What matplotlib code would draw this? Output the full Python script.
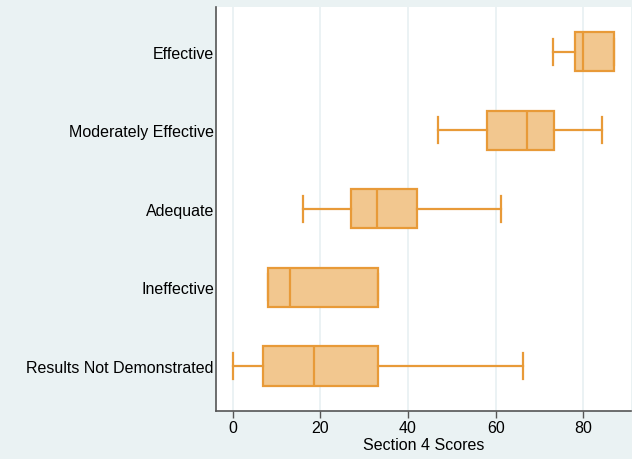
import matplotlib.pyplot as plt


categories = [
    "Results Not Demonstrated",
    "Ineffective",
    "Adequate",
    "Moderately Effective",
    "Effective",
]

# five-number summaries
whis_lo = [0.0, 8.0, 16.0, 46.9, 73.0]
q1      = [7.0, 8.0, 27.0, 58.0, 78.0]
median  = [18.5, 13.0, 33.0, 67.1, 79.9]
q3      = [33.1, 33.1, 42.1, 73.2, 87.0]
whis_hi = [66.2, 33.1, 61.1, 84.2, 87.0]

x_ticks = [0, 20, 40, 60, 80]

BG = "#eaf2f3"
FILL = "#f2c78f"
EDGE = "#e89a38"


def build_stats():
    stats = []
    for i, name in enumerate(categories):
        stats.append({
            "label": name,
            "whislo": whis_lo[i],
            "q1": q1[i],
            "med": median[i],
            "q3": q3[i],
            "whishi": whis_hi[i],
            "fliers": [],
        })
    return stats


def main():
    plt.rcParams["font.family"] = ["Liberation Sans", "DejaVu Sans"]

    fig = plt.figure(figsize=(6.32, 4.6), dpi=100)
    fig.patch.set_facecolor(BG)
    ax = fig.add_axes([0.3418, 0.105, 0.6566, 0.8776])
    ax.set_facecolor("white")

    positions = list(range(len(categories)))
    ax.bxp(
        build_stats(),
        positions=positions,
        vert=False,
        widths=0.5,
        patch_artist=True,
        showfliers=False,
        boxprops=dict(facecolor=FILL, edgecolor=EDGE, linewidth=1.6),
        medianprops=dict(color=EDGE, linewidth=1.6),
        whiskerprops=dict(color=EDGE, linewidth=1.6),
        capprops=dict(color=EDGE, linewidth=1.6),
        capwidths=0.33,
    )

    ax.set_xlim(-3.81, 90.87)
    ax.set_ylim(-0.57, 4.57)
    ax.set_xticks(x_ticks)
    ax.set_yticks(positions)
    ax.set_yticklabels(categories)
    ax.xaxis.grid(True, color="#e8f0f2", linewidth=1.2)
    ax.set_axisbelow(True)

    ax.tick_params(axis="x", length=5, width=1, color="#555555", labelsize=11.5, pad=2)
    ax.tick_params(axis="y", length=0, labelsize=11.5, pad=1.5)

    for side in ["top", "right"]:
        ax.spines[side].set_visible(False)
    for side in ["left", "bottom"]:
        ax.spines[side].set_color("#555555")
        ax.spines[side].set_linewidth(1.2)

    ax.set_xlabel("Section 4 Scores", fontsize=11.5, labelpad=1)

    fig.savefig("out.png", dpi=100, facecolor=BG)


if __name__ == "__main__":
    main()
